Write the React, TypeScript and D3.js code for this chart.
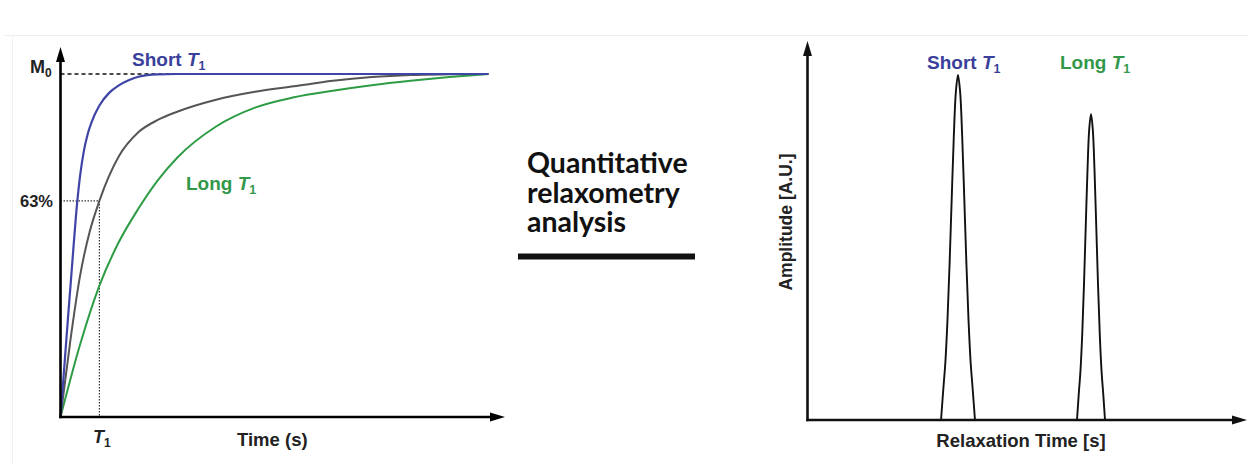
import React from 'react';
import * as d3 from 'd3';

// Saturation-recovery curves. Time is in units of the reference T1,
// magnetisation is a fraction of M0.
const shortT1Time = [0, 0.1, 0.2, 0.3, 0.4, 0.5, 0.6, 0.7, 0.8, 1.0, 1.25, 1.5, 1.75, 2.0, 2.5, 3.0, 11];
const shortT1Mag = [0, 0.15, 0.3, 0.445, 0.59, 0.7, 0.775, 0.825, 0.86, 0.908, 0.945, 0.967, 0.982, 0.992, 0.999, 1, 1];

const refT1Time = [0, 0.25, 0.5, 0.75, 1.0, 1.5, 2.0, 2.5, 3.0, 4.0, 5.0, 6.0, 7.0, 8.0, 9.0, 10.0, 11.0];
const refT1Mag = [0, 0.22, 0.41, 0.54, 0.63, 0.76, 0.83, 0.866, 0.89, 0.925, 0.948, 0.964, 0.98, 0.991, 0.997, 0.999, 1.0];

const longT1Time = [0, 0.5, 1.0, 1.5, 2.0, 2.5, 3.0, 4.0, 5.0, 6.0, 7.0, 8.0, 9.0, 10.0, 11.0];
const longT1Mag = [0, 0.21, 0.383, 0.51, 0.607, 0.69, 0.756, 0.847, 0.902, 0.932, 0.951, 0.967, 0.98, 0.991, 1.0];

const refT1 = 1;
const refFraction = 0.63;

// T1 distribution from the relaxometry fit: relaxation time (a.u.) and amplitude
const shortPeakTime = [38.15, 38.8, 39.4, 40.0, 40.6, 41.2, 41.8, 42.4, 43.0, 43.6, 44.2, 44.8, 45.4, 46.0, 46.6, 47.2, 47.85];
const shortPeakAmp = [0, 0.089, 0.169, 0.291, 0.454, 0.641, 0.821, 0.952, 1.0, 0.952, 0.821, 0.641, 0.454, 0.291, 0.169, 0.089, 0];

const longPeakTime = [77.0, 77.5, 78.0, 78.5, 79.0, 79.5, 80.0, 80.5, 81.0, 81.5, 82.0, 82.5, 83.0, 83.5, 84.0, 84.5, 85.0];
const longPeakAmp = [0, 0.075, 0.144, 0.25, 0.394, 0.562, 0.725, 0.844, 0.887, 0.844, 0.725, 0.562, 0.394, 0.25, 0.144, 0.075, 0];

const middleLines = ['Quantitative', 'relaxometry', 'analysis'];

const BLUE = '#3f45a6';
const BLUE_TEXT = '#3a3f9c';
const GREEN = '#2e9c45';
const GREEN_TEXT = '#32984a';
const GRAY = '#555555';
const SANS = '"Liberation Sans", Arial, Helvetica, sans-serif';

const zip = (xs: number[], ys: number[]) => xs.map((x, i) => [x, ys[i]] as [number, number]);

export default function App() {
  // Left panel scales
  const xT = d3.scaleLinear().domain([0, 11]).range([60.5, 488.4]);
  const yM = d3.scaleLinear().domain([0, 1]).range([417, 74]);
  const curve = d3
    .line<[number, number]>()
    .x((d) => xT(d[0]))
    .y((d) => yM(d[1]))
    .curve(d3.curveMonotoneX);

  // Right panel scales
  const xR = d3.scaleLinear().domain([0, 125]).range([807.5, 1245]);
  const yA = d3.scaleLinear().domain([0, 1]).range([420, 75]);
  const peak = d3
    .line<[number, number]>()
    .x((d) => xR(d[0]))
    .y((d) => yA(d[1]))
    .curve(d3.curveCatmullRom.alpha(0.5));

  const lx0 = xT(0);
  const ly0 = yM(0);
  const rx0 = xR(0);
  const ry0 = yA(0);

  const arrowUp = (x: number, tip: number) =>
    `M${x},${tip} L${x - 4.5},${tip + 15} L${x + 4.5},${tip + 15} Z`;
  const arrowRight = (y: number, tip: number) =>
    `M${tip},${y} L${tip - 15},${y - 4.5} L${tip - 15},${y + 4.5} Z`;

  return (
    <svg
      width={1248}
      height={465}
      style={{ position: 'absolute', left: 0, top: 0, background: '#fff' }}
      fontFamily={SANS}
    >
      <rect x={0} y={0} width={1248} height={465} fill="#fff" />
      {/* faint figure frame */}
      <line x1={5} x2={1248} y1={35.5} y2={35.5} stroke="#efefef" strokeWidth={1} />
      <line x1={12.5} x2={12.5} y1={35} y2={465} stroke="#f2f2f2" strokeWidth={1} />

      {/* ---------- Left panel: recovery curves ---------- */}
      <line
        x1={lx0}
        x2={xT(11)}
        y1={yM(1)}
        y2={yM(1)}
        stroke="#111"
        strokeWidth={1.7}
        strokeDasharray="4 3"
      />
      <path
        d={`M${lx0},${yM(refFraction)} H${xT(refT1)} V${ly0}`}
        fill="none"
        stroke="#333"
        strokeWidth={1.2}
        strokeDasharray="1.5 1.5"
      />
      <path d={curve(zip(longT1Time, longT1Mag)) || ''} fill="none" stroke={GREEN} strokeWidth={2} />
      <path d={curve(zip(refT1Time, refT1Mag)) || ''} fill="none" stroke={GRAY} strokeWidth={2} />
      <path d={curve(zip(shortT1Time, shortT1Mag)) || ''} fill="none" stroke={BLUE} strokeWidth={2.2} />

      {/* axes */}
      <line x1={lx0} x2={lx0} y1={ly0 + 1.2} y2={60} stroke="#000" strokeWidth={2.6} />
      <path d={arrowUp(lx0, 47)} fill="#000" />
      <line x1={lx0 - 1.2} x2={492} y1={ly0} y2={ly0} stroke="#000" strokeWidth={2.6} />
      <path d={arrowRight(ly0, 505)} fill="#000" />

      <text x={30} y={73} fontSize={18} fontWeight="bold" fill="#222">
        M<tspan fontSize={12} dy={4}>0</tspan>
      </text>
      <text x={53} y={207} fontSize={16.5} fontWeight="bold" fill="#222" textAnchor="end">
        63%
      </text>
      <text x={93} y={443} fontSize={18} fontWeight="bold" fill="#222">
        <tspan fontStyle="italic">T</tspan>
        <tspan fontSize={12} dy={4}>1</tspan>
      </text>
      <text x={237} y={446} fontSize={18.5} fontWeight="bold" fill="#222">
        Time (s)
      </text>
      <text x={132} y={66} fontSize={19} fontWeight="bold" fill={BLUE_TEXT}>
        Short <tspan fontStyle="italic">T</tspan>
        <tspan fontSize={12.5} dy={4}>1</tspan>
      </text>
      <text x={186} y={190} fontSize={19} fontWeight="bold" fill={GREEN_TEXT}>
        Long <tspan fontStyle="italic">T</tspan>
        <tspan fontSize={12.5} dy={4}>1</tspan>
      </text>

      {/* ---------- Middle caption ---------- */}
      {middleLines.map((line, i) => (
        <text
          key={line}
          x={527}
          y={173 + i * 29.5}
          fontSize={28.5}
          fontWeight={700}
          fontFamily="Lato, 'Open Sans', sans-serif"
          fill="#111"
        >
          {line}
        </text>
      ))}
      <line x1={518} x2={695} y1={256.5} y2={256.5} stroke="#111" strokeWidth={6} />

      {/* ---------- Right panel: T1 distribution ---------- */}
      <path d={peak(zip(shortPeakTime, shortPeakAmp)) || ''} fill="none" stroke="#111" strokeWidth={1.9} />
      <path d={peak(zip(longPeakTime, longPeakAmp)) || ''} fill="none" stroke="#111" strokeWidth={1.9} />

      <line x1={rx0} x2={rx0} y1={ry0 + 1.2} y2={55} stroke="#111" strokeWidth={2.6} />
      <path d={arrowUp(rx0, 41)} fill="#111" />
      <line x1={rx0 - 1.2} x2={1234} y1={ry0} y2={ry0} stroke="#111" strokeWidth={2.6} />
      <path d={arrowRight(ry0, 1247)} fill="#111" />

      <text x={927} y={69} fontSize={19} fontWeight="bold" fill={BLUE_TEXT}>
        Short <tspan fontStyle="italic">T</tspan>
        <tspan fontSize={12.5} dy={4}>1</tspan>
      </text>
      <text x={1060} y={69} fontSize={19} fontWeight="bold" fill={GREEN_TEXT}>
        Long <tspan fontStyle="italic">T</tspan>
        <tspan fontSize={12.5} dy={4}>1</tspan>
      </text>
      <text
        transform="translate(792,222) rotate(-90)"
        fontSize={17.5}
        fontWeight="bold"
        fill="#222"
        textAnchor="middle"
      >
        Amplitude [A.U.]
      </text>
      <text x={1021} y={447} fontSize={18.5} fontWeight="bold" fill="#222" textAnchor="middle">
        Relaxation Time [s]
      </text>
    </svg>
  );
}
